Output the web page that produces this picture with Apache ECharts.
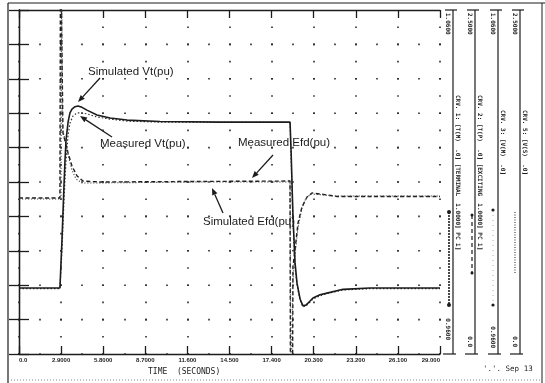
<!DOCTYPE html>
<html><head><meta charset="utf-8">
<script src="https://cdn.jsdelivr.net/npm/echarts@6/dist/echarts.min.js"></script>
<style>html,body{margin:0;padding:0;background:#fff}#c{width:545px;height:383px}</style>
</head><body><div id="c"></div>
<script>
// ---------- data ----------
const xTickLabels = ['0.0','2.9000','5.8000','8.7000','11.600','14.500','17.400','20.300','23.200','26.100','29.000'];

// Simulated terminal voltage Vt (pu)
const vtSimT = [0,2.82,2.96,3.10,3.17,3.24,3.38,3.51,3.65,3.86,4.06,4.34,4.68,5.37,6.27,7.44,9.71,13.85,18.67,18.74,18.87,19.01,19.15,19.36,19.56,19.77,20.05,20.25,20.73,21.22,22.32,24.18,29.0];
const vtSimV = [0.9792,0.9792,0.9931,1.0091,1.0164,1.0222,1.0274,1.0301,1.0312,1.0319,1.0321,1.0317,1.0309,1.0295,1.0286,1.0280,1.0276,1.0274,1.0274,1.0193,1.0004,0.9867,0.9806,0.9760,0.9740,0.9742,0.9754,0.9763,0.9772,0.9777,0.9788,0.9792,0.9792];

// Measured terminal voltage Vt (pu)
const vtMeasT = [0,2.82,2.96,3.10,3.24,3.38,3.51,3.72,4.00,4.27,4.68,5.37,6.27,7.44,9.71,18.67,18.74,18.87,19.01,19.15,19.36,19.56,19.77,20.05,20.25,20.73,21.22,22.32,24.18,29.0];
const vtMeasV = [0.9790,0.9790,0.9902,1.0048,1.0164,1.0237,1.0271,1.0292,1.0301,1.0301,1.0298,1.0289,1.0283,1.0277,1.0274,1.0273,1.0178,0.9990,0.9859,0.9801,0.9757,0.9737,0.9740,0.9751,0.9760,0.9769,0.9776,0.9786,0.9790,0.9790];

// Measured field voltage Efd (pu)  (values beyond the axis are clipped)
const efdMeasT = [0,2.82,2.86,2.99,3.03,3.24,3.38,3.65,4.00,4.41,5.58,12.47,18.67,18.70,18.84,18.87,19.01,19.22,19.49,19.84,20.18,20.73,21.91,29.0];
const efdMeasV = [1.134,1.134,3.0,3.0,1.606,1.519,1.461,1.366,1.294,1.257,1.250,1.254,1.257,-0.3,-0.3,0.632,0.756,0.952,1.068,1.141,1.170,1.163,1.145,1.145];

// Simulated field voltage Efd (pu)
const efdSimT = [0,2.89,2.93,2.96,2.99,3.17,3.38,3.65,3.93,4.34,5.23,12.47,18.67,18.74,18.81,18.87,19.01,19.22,19.49,19.77,20.11,20.59,21.77,29.0];
const efdSimV = [1.126,1.126,3.0,3.0,1.642,1.555,1.446,1.337,1.272,1.243,1.243,1.250,1.250,-0.3,-0.3,0.538,0.719,0.916,1.061,1.134,1.163,1.159,1.148,1.148];

const stripTopLabels = ['1.0600','2.5000','1.0600','2.5000'];
const stripBottomLabels = ['0.9600','0.0','0.9600','0.0'];
const stripCaptions = [
  'CRV. 1: [T(M)  .0] [TERMINAL  1.0000] PC 1]',
  'CRV. 2: [T(P)  .0] [EXCITING  1.0000] PC 1]',
  'CRV. 3: [V(M)  .0]',
  'CRV. 5: [V(S)  .0]'
];
const annotationTexts = ['Simulated Vt(pu)','Measured Vt(pu)','Measured Efd(pu)','Simulated Efd(pu)'];
const xAxisTitle = 'TIME  (SECONDS)';
const stampText = "'.'. Sep 13";

// ---------- chart ----------
const INK = '#1c1c1c';
const pair = (t, v) => t.map((x, i) => [x, v[i]]);
const chart = echarts.init(document.getElementById('c'), null, {renderer: 'canvas'});

function arrow(x1, y1, x2, y2) {
  const a = Math.atan2(y2 - y1, x2 - x1), L = 7, W = 2.8;
  const bx = x2 - L * Math.cos(a), by = y2 - L * Math.sin(a);
  return [
    {type: 'line', shape: {x1, y1, x2: bx, y2: by}, style: {stroke: INK, lineWidth: 1.3}},
    {type: 'polygon', shape: {points: [[x2, y2], [bx + W * Math.sin(a), by - W * Math.cos(a)], [bx - W * Math.sin(a), by + W * Math.cos(a)]]}, style: {fill: INK}}
  ];
}

const annFont = '11.5px "Liberation Sans", Arial, sans-serif';
const annPos = [[88, 72], [100, 144], [238, 143], [203, 222]];
const annArrows = [[100, 78, 78, 102], [112, 137, 80, 116], [273, 155, 252, 178], [223, 213, 212, 188]];

const graphics = [];
// outer frame
graphics.push({type: 'line', shape: {x1: 8, y1: 3, x2: 8, y2: 383}, style: {stroke: INK, lineWidth: 1.2}});
graphics.push({type: 'line', shape: {x1: 8, y1: 3, x2: 545, y2: 3}, style: {stroke: INK, lineWidth: 1.2}});
graphics.push({type: 'line', shape: {x1: 542, y1: 3, x2: 542, y2: 383}, style: {stroke: INK, lineWidth: 1}});
graphics.push({type: 'line', shape: {x1: 8, y1: 380, x2: 542, y2: 380}, style: {stroke: '#888', lineWidth: 1, lineDash: [1, 2]}});

annotationTexts.forEach((t, i) => {
  graphics.push({type: 'text', x: annPos[i][0], y: annPos[i][1], style: {text: t, font: annFont, fill: INK, textVerticalAlign: 'middle'}});
  arrow(...annArrows[i]).forEach(g => graphics.push(g));
});

// right-hand curve strips
const stripX = [453, 475, 498, 520];
const stripFont = '6px "DejaVu Sans Mono", monospace';
const bottomEnd = [340, 347, 348, 347];
const captionStart = [95, 95, 110, 110];
stripX.forEach((sx, i) => {
  graphics.push({type: 'line', shape: {x1: sx, y1: 10, x2: sx, y2: 354}, style: {stroke: INK, lineWidth: 1.2}});
  graphics.push({type: 'line', shape: {x1: sx - 8, y1: 10, x2: sx + 4, y2: 10}, style: {stroke: INK, lineWidth: 1.2}});
  graphics.push({type: 'line', shape: {x1: sx - 10, y1: 354, x2: sx + 3, y2: 354}, style: {stroke: INK, lineWidth: 1.2}});
  graphics.push({type: 'text', x: sx - 5.5, y: 13, rotation: -Math.PI / 2,
    style: {text: stripTopLabels[i], font: 'bold ' + stripFont, fill: INK, textAlign: 'left', textVerticalAlign: 'middle'}});
  graphics.push({type: 'text', x: sx - 5.5, y: bottomEnd[i], rotation: -Math.PI / 2,
    style: {text: stripBottomLabels[i], font: 'bold ' + stripFont, fill: INK, textAlign: 'right', textVerticalAlign: 'middle'}});
  graphics.push({type: 'text', x: sx + 4.5, y: captionStart[i], rotation: -Math.PI / 2,
    style: {text: stripCaptions[i], font: 'bold ' + stripFont, fill: INK, textAlign: 'left', textVerticalAlign: 'middle'}});
});
// legend samples in strips
graphics.push({type: 'line', shape: {x1: 449, y1: 212, x2: 449, y2: 305}, style: {stroke: INK, lineWidth: 1.6, lineDash: [2, 1]}});
graphics.push({type: 'circle', shape: {cx: 449, cy: 212, r: 2}, style: {fill: INK}});
graphics.push({type: 'circle', shape: {cx: 449, cy: 305, r: 2}, style: {fill: INK}});
graphics.push({type: 'line', shape: {x1: 472, y1: 215, x2: 472, y2: 273}, style: {stroke: INK, lineWidth: 1.2, lineDash: [4, 3]}});
graphics.push({type: 'circle', shape: {cx: 472, cy: 215, r: 1.5}, style: {fill: INK}});
graphics.push({type: 'circle', shape: {cx: 472, cy: 273, r: 1.5}, style: {fill: INK}});
graphics.push({type: 'line', shape: {x1: 493, y1: 210, x2: 493, y2: 305}, style: {stroke: '#999', lineWidth: 0.8, lineDash: [1, 4]}});
graphics.push({type: 'circle', shape: {cx: 493, cy: 210, r: 1.6}, style: {fill: INK}});
graphics.push({type: 'circle', shape: {cx: 493, cy: 305, r: 1.6}, style: {fill: INK}});
graphics.push({type: 'line', shape: {x1: 515, y1: 212, x2: 515, y2: 273}, style: {stroke: INK, lineWidth: 1, lineDash: [1, 1.5]}});

graphics.push({type: 'text', x: 148, y: 372, style: {text: xAxisTitle, font: '8px "DejaVu Sans Mono", monospace', fill: INK, textVerticalAlign: 'middle'}});
graphics.push({type: 'text', x: 483, y: 369, style: {text: stampText, font: '7.5px "DejaVu Sans Mono", monospace', fill: INK, textVerticalAlign: 'middle'}});

const lineAx = {lineStyle: {color: INK, width: 1.3}};
const option = {
  animation: false,
  backgroundColor: '#fff',
  grid: {left: 19, top: 10, width: 421, height: 344, containLabel: false},
  xAxis: [
    {type: 'value', position: 'bottom', min: 0, max: 29, interval: 2.9,
     axisLine: lineAx, axisTick: {inside: true, length: 8, lineStyle: {color: INK, width: 1.3}},
     axisLabel: {fontSize: 6, fontWeight: 'bold', fontFamily: '"Liberation Sans", Arial, sans-serif', color: INK, margin: 3,
       alignMinLabel: 'left', alignMaxLabel: 'right',
       formatter: v => xTickLabels[Math.round(v / 2.9)]},
     splitLine: {show: true, lineStyle: {color: '#2a2a2a', width: 1.6, type: [1.6, 15.6], dashOffset: 0.8}}},
    {type: 'value', position: 'top', min: 0, max: 29, interval: 1.45,
     axisLine: lineAx, axisTick: {show: false}, axisLabel: {show: false},
     splitLine: {show: true, lineStyle: {color: '#2a2a2a', width: 1.6, type: [1.6, 32.8], dashOffset: 0.8}}},
    {type: 'value', position: 'top', min: 0, max: 29, interval: 2.9,
     axisLine: {show: false}, axisTick: {inside: true, length: 8, lineStyle: {color: INK, width: 1.3}},
     axisLabel: {show: false}, splitLine: {show: false}}
  ],
  yAxis: [
    {type: 'value', position: 'left', min: 0.96, max: 1.06, interval: 0.01,
     axisLine: {show: true, lineStyle: {color: INK, width: 1.3}},
     axisTick: {show: true, inside: true, length: 10, lineStyle: {color: INK, width: 1.3}},
     axisLabel: {show: false}, splitLine: {show: false}},
    {type: 'value', position: 'right', min: 0, max: 2.5, interval: 0.25,
     axisLine: {show: true, lineStyle: {color: INK, width: 1.3}},
     axisTick: {show: true, inside: true, length: 10, lineStyle: {color: INK, width: 1.3}},
     axisLabel: {show: false}, splitLine: {show: false}}
  ],
  series: [
    {name: 'Simulated Vt(pu)', type: 'line', xAxisIndex: 0, yAxisIndex: 0, data: pair(vtSimT, vtSimV),
     showSymbol: false, smooth: false, lineStyle: {color: INK, width: 1.6}, z: 4},
    {name: 'Measured Vt(pu)', type: 'line', xAxisIndex: 0, yAxisIndex: 0, data: pair(vtMeasT, vtMeasV),
     showSymbol: false, lineStyle: {color: '#333', width: 1.2, type: [1.5, 2]}, z: 3},
    {name: 'Measured Efd(pu)', type: 'line', xAxisIndex: 0, yAxisIndex: 1, data: pair(efdMeasT, efdMeasV),
     showSymbol: false, lineStyle: {color: INK, width: 1.4, type: [4, 2.5]}, z: 3},
    {name: 'Simulated Efd(pu)', type: 'line', xAxisIndex: 0, yAxisIndex: 1, data: pair(efdSimT, efdSimV),
     showSymbol: false, lineStyle: {color: '#444', width: 1.1, type: [1.2, 1.8]}, z: 3}
  ],
  graphic: graphics
};
chart.setOption(option);
</script></body></html>
